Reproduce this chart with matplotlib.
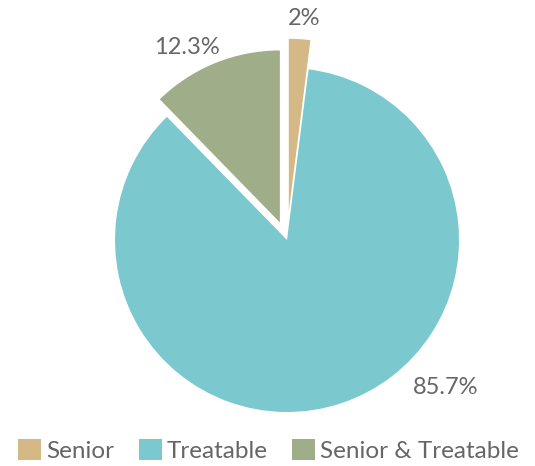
import matplotlib
matplotlib.use("Agg")
import matplotlib.pyplot as plt
from matplotlib.patches import Patch

plt.rcParams['font.family'] = ['Lato', 'DejaVu Sans']

# data
categories = ["Senior", "Treatable", "Senior & Treatable"]
shares = [2.0, 85.7, 12.3]
value_labels = ["2%", "85.7%", "12.3%"]
colors = ["#D4B886", "#7BC9CF", "#9FAE88"]
explode = [0.17, 0.0, 0.11]
# label spots in pie units (radius = 1)
label_pos = [(0.10, 1.29), (0.92, -0.86), (-0.58, 1.12)]

text_color = "#666666"

fig = plt.figure(figsize=(5.35, 4.66), dpi=100)
ax = fig.add_axes([0, 0, 1, 1])

cx, cy, r = 287, 240, 172   # pie centre and radius in pixels
ax.pie(shares, colors=colors, explode=explode, startangle=90,
       counterclock=False, radius=1.0, wedgeprops=dict(linewidth=0))
ax.set_xlim(-cx / r, (535 - cx) / r)
ax.set_ylim((cy - 466) / r, cy / r)
ax.set_aspect('auto')
ax.axis('off')

for lab, (x, y) in zip(value_labels, label_pos):
    ax.text(x, y, lab, ha='center', va='center', fontsize=17, color=text_color)

handles = [Patch(facecolor=c, edgecolor='none') for c in colors]
fig.legend(handles, categories, loc='lower center', ncol=3, frameon=False,
           bbox_to_anchor=(0.502, 0.004), fontsize=17.5, labelcolor=text_color,
           handlelength=0.95, handleheight=0.95, handletextpad=0.2,
           columnspacing=1.0, borderpad=0.1, borderaxespad=0)

fig.savefig("out.png", dpi=100)
